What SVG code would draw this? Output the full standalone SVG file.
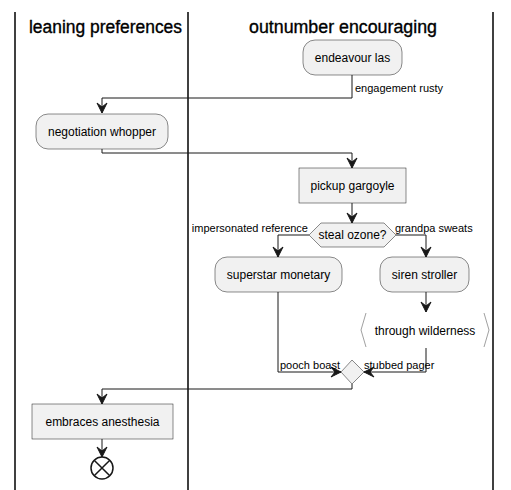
<svg xmlns="http://www.w3.org/2000/svg" width="511" height="490" viewBox="0 0 511 490">
<style>
.lane{stroke:#000;stroke-width:1.5;fill:none}
.title{font-family:"Liberation Sans",Arial,sans-serif;font-size:18px;fill:#000;stroke:#000;stroke-width:0.35;text-anchor:middle}
.node{fill:#F1F1F1;stroke:#181818;stroke-width:0.5}
.txt{font-family:"Liberation Sans",Arial,sans-serif;font-size:12px;fill:#000;text-anchor:middle}
.lbl{font-family:"Liberation Sans",Arial,sans-serif;font-size:11px;fill:#000}
.edge{stroke:#181818;stroke-width:1;fill:none}
.head{fill:#181818;stroke:#181818;stroke-width:1}
.brk{fill:none;stroke:#888;stroke-width:0.8}
</style>
<rect width="511" height="490" fill="#fff"/>
<g id="lanes">
<line class="lane" x1="15" y1="12" x2="15" y2="490"/>
<line class="lane" x1="188" y1="12" x2="188" y2="490"/>
<line class="lane" x1="493" y1="12" x2="493" y2="490"/>
<text class="title" x="105.5" y="33" textLength="153" lengthAdjust="spacingAndGlyphs">leaning preferences</text>
<text class="title" x="343" y="33" textLength="188" lengthAdjust="spacingAndGlyphs">outnumber encouraging</text>
</g>
<g id="connectors">
<path class="edge" d="M352,75 V98 H102 V113"/>
<path class="head" d="M102,113 L97,103 L102,107 L107,103 Z"/>
<text class="lbl" x="355" y="92">engagement rusty</text>
<path class="edge" d="M102,149 V153 H352 V168"/>
<path class="head" d="M352,168 L347,158 L352,162 L357,158 Z"/>
<path class="edge" d="M352,203 V223"/>
<path class="head" d="M352,223 L347,213 L352,217 L357,213 Z"/>
<path class="edge" d="M309,235 H278 V257"/>
<path class="head" d="M278,257 L273,247 L278,251 L283,247 Z"/>
<text class="lbl" x="308" y="232" text-anchor="end">impersonated reference</text>
<path class="edge" d="M396,235 H426 V257"/>
<path class="head" d="M426,257 L421,247 L426,251 L431,247 Z"/>
<text class="lbl" x="395" y="232">grandpa sweats</text>
<path class="edge" d="M426,292 V312"/>
<path class="head" d="M426,312 L421,302 L426,306 L431,302 Z"/>
<path class="edge" d="M278,292 V372 H341"/>
<path class="head" d="M341,372 L331,367 L335,372 L331,377 Z"/>
<text class="lbl" x="280" y="369">pooch boast</text>
<path class="edge" d="M426,348 V372 H364"/>
<path class="head" d="M364,372 L374,367 L370,372 L374,377 Z"/>
<text class="lbl" x="364" y="369">stubbed pager</text>
<path class="edge" d="M352,384 V389 H102 V404"/>
<path class="head" d="M102,404 L97,394 L102,398 L107,394 Z"/>
<path class="edge" d="M102,439 V457"/>
<path class="head" d="M102,457 L97,447 L102,451 L107,447 Z"/>
</g>
<g id="endeavour-las">
<rect class="node" x="303" y="40" width="99" height="35" rx="12"/>
<text class="txt" x="352.5" y="62">endeavour las</text>
</g>
<g id="negotiation-whopper">
<rect class="node" x="36" y="114" width="132" height="35" rx="12"/>
<text class="txt" x="102" y="136">negotiation whopper</text>
</g>
<g id="pickup-gargoyle">
<rect class="node" x="299" y="168" width="107" height="35"/>
<text class="txt" x="352.5" y="190">pickup gargoyle</text>
</g>
<g id="steal-ozone">
<polygon class="node" points="309,235 321,223 384,223 396,235 384,247 321,247"/>
<text class="txt" x="352.5" y="239">steal ozone?</text>
</g>
<g id="superstar-monetary">
<rect class="node" x="215" y="257" width="127" height="35" rx="12"/>
<text class="txt" x="278.5" y="279">superstar monetary</text>
</g>
<g id="siren-stroller">
<rect class="node" x="380" y="257" width="89" height="35" rx="12"/>
<text class="txt" x="424.5" y="279">siren stroller</text>
</g>
<g id="through-wilderness">
<polyline class="brk" points="366,313 361,330 366,347"/>
<polyline class="brk" points="484,313 489,330 484,347"/>
<text class="txt" x="425" y="335">through wilderness</text>
</g>
<g id="merge">
<polygon class="node" points="352,360 364,372 352,384 341,372"/>
</g>
<g id="embraces-anesthesia">
<rect class="node" x="32" y="404" width="141" height="35"/>
<text class="txt" x="102.5" y="426">embraces anesthesia</text>
</g>
<g id="end">
<circle cx="102" cy="468" r="11" fill="none" stroke="#181818" stroke-width="1.5"/>
<path d="M94.2,460.2 L109.8,475.8 M109.8,460.2 L94.2,475.8" stroke="#181818" stroke-width="1.5"/>
</g>
</svg>
